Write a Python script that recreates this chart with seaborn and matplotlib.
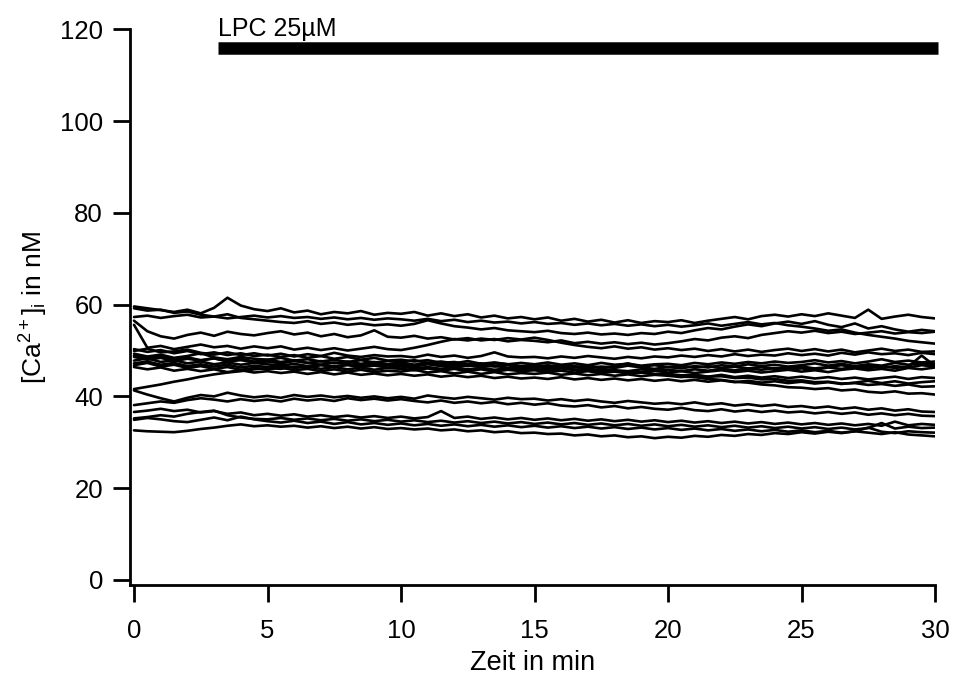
import numpy as np
import pandas as pd
import seaborn as sns
import matplotlib
matplotlib.use("Agg")
from matplotlib import pyplot as plt

# sampling grid: one point every 30 s, 0..30 min
minutes = np.arange(61) * 0.5

# [Ca2+]i traces in nM (one list per cell)
cell01 = [59.6, 59.2, 58.8, 58.4, 58.9, 58.1, 59.3, 61.5, 59.8, 59.0,
          58.6, 59.2, 58.3, 58.7, 57.9, 58.4, 58.1, 58.6, 57.8, 58.2,
          58.0, 58.4, 57.6, 58.1, 57.5, 57.9, 57.2, 57.6, 57.0, 57.3,
          56.8, 57.2, 56.5, 56.9, 56.3, 56.7, 56.1, 56.6, 56.0, 56.4,
          56.2, 56.6, 56.0, 56.5, 56.9, 57.3, 56.8, 57.5, 57.8, 57.4,
          57.9, 57.5, 58.1, 57.6, 57.1, 58.9, 56.9, 57.4, 57.8, 57.3, 57.0]
cell02 = [59.2, 58.7, 58.9, 58.2, 58.5, 57.8, 57.4, 57.9, 57.1, 56.8,
          56.5, 56.2, 56.0, 56.4, 55.8, 56.1, 55.6, 55.9, 55.5, 55.7,
          55.4, 55.8, 56.6, 55.9, 55.3, 55.0, 54.6, 54.9, 54.4, 54.2,
          54.0, 54.3, 53.8, 53.6, 53.9, 53.5, 53.7, 53.4, 53.8, 53.6,
          54.1, 53.8, 54.4, 54.9, 54.6, 55.2, 55.7, 55.3, 55.9, 56.3,
          55.8, 56.4, 55.6, 55.1, 55.9, 54.8, 55.3, 54.6, 54.1, 54.5, 54.2]
cell03 = [57.3, 57.6, 57.1, 57.5, 57.8, 57.2, 57.4, 57.0, 57.3, 57.6,
          57.2, 57.5, 57.1, 57.3, 56.9, 57.2, 56.8, 57.1, 56.7, 57.0,
          56.8, 56.5, 56.9, 56.4, 56.7, 56.2, 56.5, 56.1, 56.3, 55.9,
          56.2, 55.8, 56.0, 55.6, 55.9, 55.5, 55.8, 55.4, 55.7, 55.3,
          55.6, 55.2, 55.5, 55.9, 55.4, 55.8, 56.2, 55.7, 56.0, 55.5,
          55.2, 54.8, 54.3, 54.6, 53.9, 53.4, 53.0, 52.6, 52.1, 51.8, 51.5]
cell04 = [56.5, 54.2, 53.1, 52.6, 53.4, 53.9, 53.2, 54.1, 53.6, 53.3,
          53.8, 54.2, 53.5, 53.9, 53.1, 53.6, 52.9, 53.3, 54.4, 53.0,
          52.8, 53.2, 52.6, 52.9, 52.4, 52.7, 52.2, 52.5, 52.0, 52.3,
          52.1, 51.8, 52.2, 51.6, 51.9, 51.5, 51.8, 51.4, 51.7, 51.3,
          51.6, 52.0, 52.5, 52.2, 52.8, 53.1, 52.7, 53.4, 53.8, 54.2,
          53.9, 54.3, 53.8, 54.1, 53.6, 53.9, 54.2, 53.7, 54.0, 53.8, 54.1]
cell05 = [55.6, 50.6, 51.0, 50.3, 50.8, 51.3, 50.7, 51.0, 50.4, 50.9,
          50.5, 50.9, 50.2, 50.6, 50.1, 50.5, 50.0, 50.4, 50.8, 50.3,
          50.1, 50.6, 51.2, 51.9, 52.5, 52.2, 52.6, 52.3, 52.7, 52.4,
          52.8, 52.3, 51.7, 51.2, 50.8, 50.5, 50.9, 50.4, 50.7, 50.2,
          50.5, 50.1, 50.4, 49.9, 50.3, 49.8, 50.2, 49.7, 50.1, 50.4,
          49.9, 50.3, 49.8, 50.2, 49.6, 50.0, 50.4, 49.9, 50.2, 49.7, 49.8]
cell06 = [49.9, 50.4, 49.6, 49.8, 50.2, 49.5, 49.1, 49.6, 49.0, 49.4,
          48.9, 49.3, 48.7, 49.2, 48.8, 49.5, 48.9, 48.6, 49.0, 48.7,
          48.8, 48.5, 49.1, 48.6, 48.9, 48.4, 48.8, 49.6, 48.7, 48.5,
          48.6, 48.3, 48.7, 48.4, 48.8, 48.5, 48.2, 48.6, 48.3, 48.7,
          48.5, 48.9, 48.6, 49.0, 48.7, 49.2, 48.8, 49.1, 48.9, 49.4,
          49.0, 49.3, 48.9, 49.5, 49.1, 49.6, 49.2, 49.4, 49.0, 49.5, 49.2]
cell07 = [49.3, 48.7, 49.1, 48.4, 48.8, 49.4, 48.5, 48.1, 48.6, 48.2,
          48.0, 48.4, 47.8, 48.1, 47.6, 48.0, 47.5, 47.9, 47.4, 47.7,
          47.5, 47.9, 47.3, 47.6, 47.2, 47.7, 47.1, 47.4, 47.0, 47.3,
          47.0, 47.4, 46.9, 47.2, 46.8, 47.3, 46.9, 47.1, 46.7, 47.0,
          47.1, 46.8, 47.3, 47.0, 47.4, 47.1, 47.5, 47.2, 47.6, 47.3,
          47.5, 47.9, 47.4, 47.7, 47.2, 47.6, 48.1, 47.5, 47.8, 47.4, 47.6]
cell08 = [48.6, 48.0, 48.4, 47.7, 48.2, 47.8, 48.3, 47.6, 47.9, 47.4,
          47.6, 47.2, 47.7, 47.3, 46.9, 47.4, 47.0, 46.7, 47.1, 46.8,
          46.9, 46.5, 47.0, 46.6, 46.3, 46.8, 46.4, 46.7, 46.2, 46.6,
          46.4, 46.8, 46.3, 46.6, 46.1, 46.5, 46.2, 46.7, 46.3, 46.0,
          46.4, 46.1, 46.6, 46.3, 46.8, 46.5, 47.0, 46.6, 46.9, 46.5,
          46.8, 47.2, 46.7, 47.1, 46.6, 47.0, 46.7, 47.3, 46.9, 47.2, 47.0]
cell09 = [47.8, 48.3, 47.5, 47.9, 47.2, 47.6, 47.0, 47.4, 46.9, 47.3,
          47.0, 46.7, 47.1, 46.6, 46.9, 46.5, 46.8, 46.4, 46.7, 46.3,
          46.5, 46.1, 46.4, 46.0, 46.3, 45.9, 46.2, 45.8, 46.1, 45.9,
          46.0, 45.7, 46.1, 45.8, 45.6, 46.0, 45.7, 45.5, 45.9, 45.6,
          45.8, 45.5, 45.9, 45.6, 46.0, 45.7, 46.1, 45.8, 46.2, 45.9,
          46.1, 45.8, 46.3, 46.0, 46.4, 46.1, 46.6, 46.2, 46.5, 48.9, 46.6]
cell10 = [47.2, 47.6, 46.9, 47.3, 46.6, 47.0, 46.5, 46.9, 46.3, 46.7,
          46.4, 46.8, 46.2, 46.5, 46.0, 46.4, 45.9, 46.3, 45.8, 46.2,
          46.0, 45.7, 46.1, 45.6, 46.0, 45.5, 45.9, 45.4, 45.8, 45.5,
          45.7, 45.3, 45.6, 45.2, 45.5, 45.1, 45.4, 45.0, 45.3, 45.6,
          45.2, 45.5, 45.1, 45.4, 45.7, 45.3, 45.6, 45.2, 45.5, 45.8,
          45.4, 45.7, 45.3, 45.8, 46.1, 45.7, 46.0, 45.6, 46.2, 45.9, 46.3]
cell11 = [46.8, 47.3, 46.5, 46.9, 46.2, 46.6, 46.0, 46.4, 45.8, 46.2,
          45.9, 46.3, 45.7, 46.0, 45.5, 45.9, 45.4, 45.8, 45.3, 45.6,
          45.4, 45.8, 45.2, 45.5, 45.0, 45.4, 44.9, 45.3, 44.8, 45.1,
          44.9, 45.2, 44.7, 45.0, 44.6, 44.9, 44.5, 44.8, 44.4, 44.7,
          44.5, 44.2, 44.6, 44.3, 44.7, 44.2, 44.5, 44.1, 44.4, 44.0,
          44.3, 43.9, 44.2, 43.8, 44.1, 43.7, 44.0, 44.3, 43.8, 44.2, 44.0]
cell12 = [46.4, 45.9, 46.3, 45.6, 46.0, 45.5, 45.9, 45.3, 45.7, 45.2,
          45.5, 45.1, 45.4, 44.9, 45.3, 44.8, 45.2, 44.7, 45.0, 44.6,
          44.9, 44.5, 44.8, 44.3, 44.6, 44.2, 44.5, 44.0, 44.3, 43.9,
          44.1, 43.8, 44.2, 43.7, 44.0, 43.6, 43.9, 43.5, 43.8, 43.4,
          43.7, 43.3, 43.6, 43.2, 43.5, 43.1, 43.4, 43.0, 43.3, 42.9,
          43.2, 42.8, 43.1, 42.7, 43.0, 43.4, 42.9, 43.3, 42.8, 43.1, 43.3]
cell13 = [50.3, 49.7, 50.1, 49.4, 49.9, 49.2, 49.6, 49.0, 49.4, 48.8,
          49.1, 48.6, 49.0, 48.4, 48.8, 48.2, 48.6, 48.0, 48.4, 47.8,
          48.0, 47.6, 47.9, 47.3, 47.5, 47.0, 47.2, 46.7, 46.9, 46.4,
          46.5, 46.1, 46.2, 45.8, 45.9, 45.5, 45.6, 45.2, 45.3, 44.9,
          44.9, 44.6, 44.7, 44.3, 44.4, 44.0, 44.1, 43.7, 43.8, 43.4,
          43.5, 43.1, 43.2, 42.8, 42.9, 42.5, 42.7, 42.3, 42.6, 42.1, 42.2]
cell14 = [48.9, 48.4, 48.8, 48.1, 48.5, 47.9, 48.3, 47.7, 48.2, 47.6,
          48.0, 47.5, 47.9, 47.3, 47.7, 47.2, 47.6, 47.1, 47.5, 47.0,
          47.4, 46.9, 47.3, 46.8, 47.1, 46.6, 47.0, 46.5, 46.8, 46.3,
          46.6, 46.1, 46.3, 45.8, 46.0, 45.5, 45.6, 45.1, 45.2, 44.8,
          44.8, 44.3, 44.2, 43.8, 43.6, 43.2, 43.0, 42.6, 42.4, 42.0,
          41.9, 41.6, 41.8, 41.3, 41.5, 41.0, 40.8, 41.1, 40.6, 40.7, 40.4]
cell15 = [41.6, 42.1, 42.6, 43.2, 43.7, 44.3, 44.8, 45.2, 45.5, 45.9,
          46.2, 46.0, 46.5, 46.3, 46.8, 46.5, 47.0, 46.7, 47.2, 46.9,
          47.1, 46.8, 47.3, 47.0, 46.7, 47.1, 46.8, 47.3, 47.0, 46.6,
          46.9, 46.5, 46.8, 46.4, 46.7, 46.3, 46.6, 47.2, 46.5, 46.8,
          46.4, 46.7, 46.3, 46.6, 46.2, 46.5, 46.1, 46.4, 46.0, 46.3,
          46.5, 46.1, 46.4, 46.8, 46.3, 46.7, 46.2, 46.6, 46.3, 46.8, 46.5]
cell16 = [41.3, 40.4, 39.6, 38.9, 39.7, 40.3, 40.0, 40.8, 40.2, 39.8,
          40.1, 39.7, 40.3, 39.9, 40.2, 39.8, 40.1, 39.7, 40.0, 39.6,
          39.9, 39.5, 40.2, 39.8, 39.5, 39.9, 39.6, 39.3, 39.7, 39.4,
          39.5, 39.1, 39.4, 39.0, 39.3, 38.9, 38.6, 39.0, 38.7, 38.4,
          38.6, 38.3, 38.7, 38.2, 38.5, 38.0, 38.3, 37.9, 38.2, 37.7,
          37.9, 37.5, 37.8, 37.3, 37.6, 37.1, 37.4, 36.9, 37.2, 36.7, 36.6]
cell17 = [38.1, 38.5, 38.9, 38.6, 39.2, 39.6, 39.3, 38.9, 39.4, 39.0,
          39.3, 38.9, 39.5, 39.1, 39.4, 39.0, 39.6, 39.2, 39.5, 39.1,
          39.4, 39.0, 38.7, 39.1, 38.6, 38.9, 38.5, 38.8, 38.3, 38.6,
          38.2, 38.5, 38.0, 37.8, 38.1, 37.6, 37.9, 37.4, 37.7, 37.3,
          37.1, 37.5, 37.0, 36.8, 37.2, 36.7, 37.0, 36.6, 36.9, 36.5,
          36.7, 36.3, 36.6, 36.2, 36.5, 36.0, 36.3, 35.9, 36.2, 35.8, 35.7]
cell18 = [36.6, 36.9, 37.3, 36.8, 37.1, 36.5, 36.8, 36.2, 36.5, 35.9,
          36.2, 35.8, 36.1, 35.6, 35.9, 35.5, 35.8, 35.4, 35.7, 35.3,
          35.6, 35.2, 35.5, 36.8, 35.3, 35.6, 35.1, 35.4, 35.0, 35.3,
          34.9, 35.2, 34.8, 35.1, 34.7, 35.0, 34.6, 34.9, 34.5, 34.8,
          34.4, 34.7, 34.3, 34.6, 34.2, 34.5, 34.1, 34.4, 34.0, 34.3,
          33.9, 34.2, 33.8, 34.1, 33.7, 34.0, 33.6, 34.5, 33.7, 34.0, 33.8]
cell19 = [35.2, 35.5, 35.9, 35.6, 36.2, 36.6, 36.9, 35.9, 35.4, 35.1,
          35.0, 35.3, 34.9, 35.2, 34.8, 35.1, 34.7, 35.0, 34.6, 34.9,
          34.5, 34.8, 34.4, 34.7, 34.3, 34.6, 34.2, 34.5, 34.1, 34.4,
          34.0, 34.3, 33.9, 34.2, 33.8, 34.1, 33.7, 34.0, 33.6, 33.9,
          33.5, 33.8, 33.4, 33.7, 33.3, 33.6, 33.2, 33.5, 33.1, 33.4,
          33.0, 33.3, 32.9, 33.2, 32.8, 33.1, 34.2, 33.0, 33.4, 33.1, 33.2]
cell20 = [34.9, 35.3, 35.0, 34.6, 34.4, 34.9, 35.4, 34.8, 35.6, 35.0,
          34.6, 34.3, 34.7, 34.2, 34.5, 34.0, 34.4, 33.9, 34.2, 33.8,
          34.1, 33.7, 34.0, 33.6, 33.9, 33.5, 33.8, 33.4, 33.7, 33.3,
          33.6, 33.2, 33.5, 33.1, 33.4, 33.0, 33.3, 32.9, 33.2, 32.8,
          33.1, 32.7, 33.0, 32.6, 32.9, 32.5, 32.8, 32.4, 32.7, 32.3,
          32.6, 32.2, 32.5, 32.1, 32.4, 33.2, 32.3, 32.0, 32.4, 32.2, 32.1]
cell21 = [32.6, 32.4, 32.3, 32.2, 32.5, 32.9, 33.2, 33.6, 33.9, 33.5,
          33.7, 33.4, 33.6, 33.2, 33.5, 33.1, 33.4, 33.0, 33.3, 32.9,
          33.1, 32.8, 33.0, 32.6, 32.8, 32.4, 32.6, 32.2, 32.4, 32.0,
          32.1, 31.8, 31.9, 31.5, 31.7, 31.3, 31.5, 31.1, 31.3, 30.9,
          31.2, 31.0, 31.4, 31.2, 31.6, 31.4, 31.8, 31.6, 32.0, 31.8,
          32.2, 31.9, 32.3, 32.0, 32.4, 32.1, 31.8, 32.2, 31.7, 31.5, 31.3]

cells = [cell01, cell02, cell03, cell04, cell05, cell06, cell07,
         cell08, cell09, cell10, cell11, cell12, cell13, cell14,
         cell15, cell16, cell17, cell18, cell19, cell20, cell21]

# LPC application bar
lpc_start = 3.15
lpc_end = 30.1
lpc_level = 115.9
lpc_label = 'LPC 25µM'

frames = []
for i, vals in enumerate(cells):
    frames.append(pd.DataFrame({'min': minutes, 'ca': vals, 'cell': i}))
df = pd.concat(frames, ignore_index=True)

sns.set_style('ticks')
plt.rcParams['font.family'] = ['Liberation Sans', 'DejaVu Sans']
plt.rcParams['mathtext.fontset'] = 'custom'
plt.rcParams['mathtext.rm'] = 'Liberation Sans'
plt.rcParams['mathtext.it'] = 'Liberation Sans'
for key in ['text.color', 'axes.labelcolor', 'xtick.color',
            'ytick.color', 'axes.edgecolor']:
    plt.rcParams[key] = 'black'

fig = plt.figure(figsize=(9.54, 6.77), dpi=100)
ax = fig.add_axes([130 / 954, 1 - 585 / 677, 805 / 954, (585 - 29.3) / 677])

sns.lineplot(data=df, x='min', y='ca', units='cell', estimator=None,
             color='black', linewidth=1.9, ax=ax, legend=False)

# application bar + label
ax.plot([lpc_start, lpc_end], [lpc_level, lpc_level], color='black',
        linewidth=9, solid_capstyle='butt', clip_on=False)
ax.text(lpc_start, 118.5, lpc_label, fontsize=18, va='baseline', ha='left')

ax.set_xlim(-0.15, 30)
ax.set_ylim(-1.1, 120)
ax.set_xticks([0, 5, 10, 15, 20, 25, 30])
ax.set_yticks([0, 20, 40, 60, 80, 100, 120])

sns.despine(ax=ax)
for side in ['left', 'bottom']:
    ax.spines[side].set_linewidth(2)
ax.tick_params(axis='both', direction='out', length=12.5, width=2,
               labelsize=18.5, color='black', labelcolor='black')
ax.tick_params(axis='x', pad=12)
ax.tick_params(axis='y', pad=7)

ax.set_xlabel('Zeit in min', fontsize=19.5, labelpad=5)
ax.set_ylabel(r'[Ca$^{\mathrm{2+}}$]$_{\mathrm{i}}$ in nM', fontsize=19, labelpad=7)

fig.savefig('out.png', dpi=100)
